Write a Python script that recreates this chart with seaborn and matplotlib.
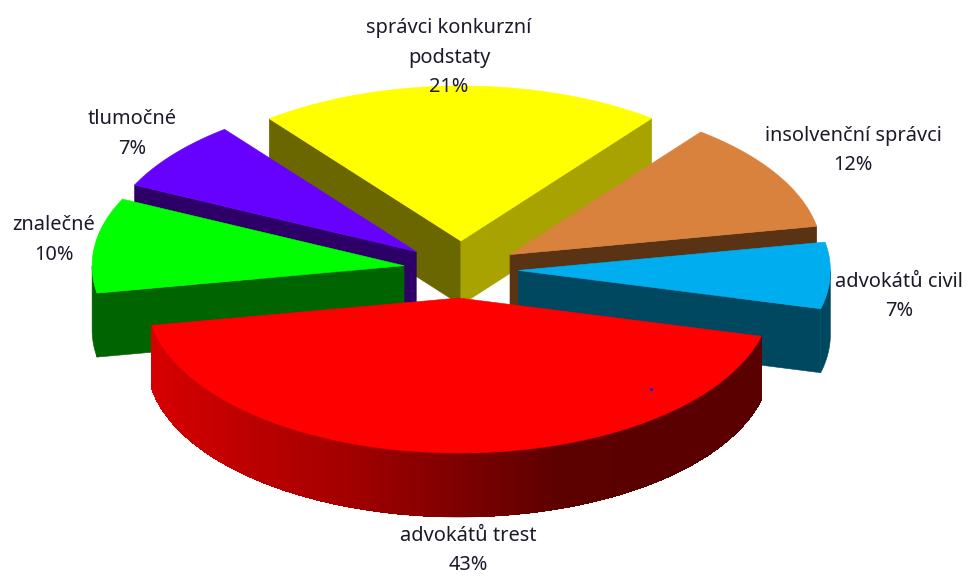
import numpy as np
import matplotlib
matplotlib.use('Agg')
import matplotlib.pyplot as plt
from matplotlib.patches import Polygon
import seaborn as sns

# clockwise from the left edge of the yellow slice
categories = ['správci konkurzní\npodstaty', 'insolvenční správci', 'advokátů civil',
              'advokátů trest', 'znalečné', 'tlumočné']
values = [21.0, 11.6, 6.9, 43.2, 9.9, 7.4]

top_colors = ['#FFFF00', '#D8823E', '#00AEEF', '#FF0000', '#00FF00', '#6600FF']
side_colors = ['#A8A300', '#5A3214', '#004860', '#5A0000', '#006400', '#2C0066']
left_cut_colors = ['#6B6700', None, None, None, '#006400', '#2C0066']
right_cut_colors = ['#A8A300', '#5A3214', '#004860', None, None, None]
draw_order = [0, 5, 1, 4, 2, 3]

label_pos = [(449, 28), (853, 136), (899, 282), (468, 536), (54, 225), (132, 119)]
LINE_STEP = 29.5

# ellipse geometry in pixels
CX, CY = 461, 269.5
A, B = 312, 155
DEPTH = 64
EXPLODE = 0.184
START = 127.9

sns.set_theme(style='white')
plt.rcParams['font.family'] = ['Noto Sans', 'DejaVu Sans']

fig, ax = plt.subplots(figsize=(9.69, 5.76), dpi=100)
ax.set_position([0, 0, 1, 1])
ax.set_xlim(0, 969)
ax.set_ylim(576, 0)
ax.axis('off')

red_ramp = sns.blend_palette(['#D60000', '#A00000', '#5C0000', '#5A0000'], 200)


def rim_point(ox, oy, deg):
    t = np.radians(deg)
    return ox + A * np.cos(t), oy - B * np.sin(t)


def face(points, color):
    ax.add_patch(Polygon(points, closed=True, facecolor=color, edgecolor=color, linewidth=0.4))


# slice angles come from the values
ends = START - np.cumsum(values) * 3.6
starts = np.concatenate([[START], ends[:-1]])

for i in draw_order:
    hi, lo = starts[i], ends[i]
    mid = np.radians((hi + lo) / 2)
    ox = CX + EXPLODE * A * np.cos(mid)
    oy = CY - EXPLODE * B * np.sin(mid)

    if left_cut_colors[i]:
        px, py = rim_point(ox, oy, hi)
        face([(ox, oy), (px, py), (px, py + DEPTH), (ox, oy + DEPTH)], left_cut_colors[i])
    if right_cut_colors[i]:
        px, py = rim_point(ox, oy, lo)
        face([(ox, oy), (px, py), (px, py + DEPTH), (ox, oy + DEPTH)], right_cut_colors[i])

    # outer wall, only the part turned to the viewer
    deg = np.linspace(lo, hi, 400)
    deg = deg[np.sin(np.radians(deg)) < 0]
    if len(deg) > 1:
        deg = np.sort(deg % 360)
        xs, ys = rim_point(ox, oy, deg)
        if categories[i] == 'advokátů trest':
            # solid wall first so the ramp strips leave no seams
            face(list(zip(xs, ys)) + list(zip(xs[::-1], ys[::-1] + DEPTH)), side_colors[i])
            for k in range(len(deg) - 4):
                frac = (xs[k] - xs[0]) / (xs[-1] - xs[0])
                c = red_ramp[min(int(frac * 199), 199)]
                ax.add_patch(Polygon([(xs[k], ys[k]), (xs[k + 4], ys[k + 4]),
                                      (xs[k + 4], ys[k + 4] + DEPTH), (xs[k], ys[k] + DEPTH)],
                                     closed=True, facecolor=c, edgecolor='none', antialiased=False))
        else:
            face(list(zip(xs, ys)) + list(zip(xs[::-1], ys[::-1] + DEPTH)), side_colors[i])

    xs, ys = rim_point(ox, oy, np.linspace(lo, hi, 120))
    face([(ox, oy)] + list(zip(xs, ys)), top_colors[i])

    # the stray blue speck on the red slice
    if categories[i] == 'advokátů trest':
        ax.scatter([ox + 0.615 * A], [oy + 0.587 * B], s=5, color='#2020C0', linewidths=0, zorder=5)

for name, val, (x, y) in zip(categories, values, label_pos):
    lines = name.split('\n') + [f'{round(val)}%']
    for n, line in enumerate(lines):
        ax.text(x, y + n * LINE_STEP, line, ha='center', va='center', fontsize=14.4, color='#1A1A2A')

plt.savefig('out.png', dpi=100)
plt.close()
